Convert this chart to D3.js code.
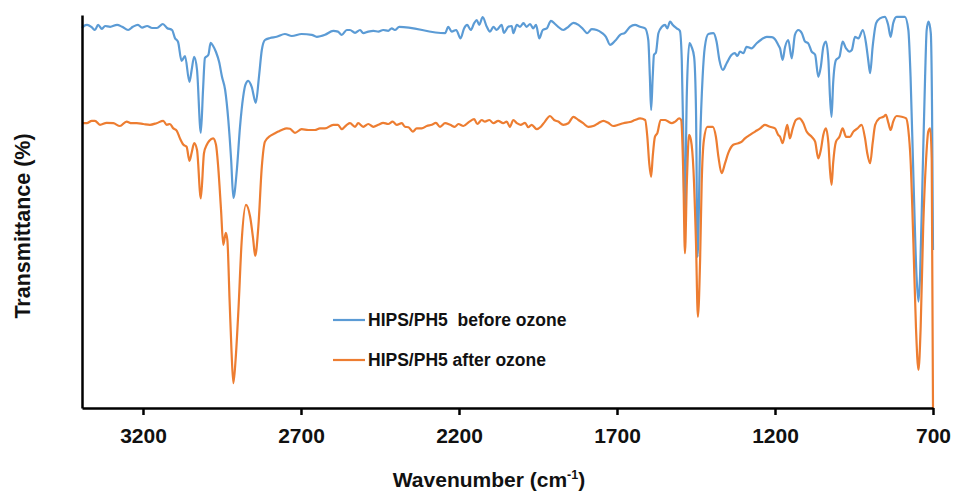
<!DOCTYPE html>
<html>
<head>
<meta charset="utf-8">
<script src="https://cdn.jsdelivr.net/npm/d3@7"></script>
<style>
    body { margin: 0; background: #fff; }
    svg text { font-family: 'Liberation Sans', Arial, sans-serif; font-weight: bold; fill: #111; }
</style>
</head>
<body>
<div id="chart"></div>
<script>
// wavenumber (cm-1), transmittance (arbitrary %, no y labels in the source)
const beforeOzone = [[3393,95.0],[3387,95.5],[3377,95.8],[3361,95.1],[3352,94.5],[3342,95.8],[3330,94.8],[3320,95.5],[3304,95.3],[3282,95.8],[3266,95.3],[3247,94.5],[3232,95.3],[3216,95.8],[3203,95.1],[3187,95.5],[3171,95.0],[3156,95.0],[3137,96.0],[3124,95.0],[3108,94.5],[3099,92.5],[3089,91.5],[3078,86.8],[3067,88.0],[3053,81.5],[3046,84.5],[3038,87.8],[3029,84.5],[3017,68.8],[3010,79.5],[3004,87.5],[2993,88.3],[2986,91.3],[2978,90.5],[2969,89.0],[2959,86.5],[2950,82.8],[2940,79.5],[2930,72.0],[2921,62.0],[2914,52.5],[2903,59.5],[2893,70.3],[2883,77.8],[2876,80.8],[2867,81.8],[2856,80.3],[2843,76.3],[2833,82.8],[2824,89.5],[2814,92.0],[2798,92.5],[2777,92.8],[2751,93.5],[2729,93.0],[2698,93.5],[2666,93.3],[2650,92.8],[2624,93.3],[2598,94.3],[2583,94.1],[2571,93.3],[2555,94.5],[2545,94.5],[2529,93.8],[2513,94.5],[2503,93.7],[2487,94.1],[2471,94.3],[2455,94.1],[2440,94.5],[2424,94.3],[2413,94.9],[2403,94.5],[2389,95.3],[2244,93.7],[2234,95.3],[2223,94.1],[2209,94.5],[2195,92.4],[2184,94.9],[2174,95.8],[2163,94.5],[2152,96.2],[2144,97.0],[2136,95.8],[2125,97.7],[2112,95.3],[2102,94.1],[2091,95.3],[2081,94.5],[2065,95.8],[2058,93.8],[2044,95.3],[2033,95.5],[2028,93.7],[2017,95.8],[2007,95.3],[1996,96.2],[1986,95.3],[1975,96.0],[1965,94.9],[1956,95.8],[1946,92.4],[1935,94.5],[1922,94.9],[1909,96.8],[1896,96.0],[1886,95.3],[1870,94.5],[1854,95.3],[1838,96.3],[1822,95.8],[1807,94.7],[1794,93.7],[1780,94.7],[1764,94.5],[1748,93.8],[1735,92.8],[1722,90.8],[1706,91.8],[1690,93.3],[1675,93.8],[1659,95.3],[1643,95.8],[1627,95.3],[1611,94.9],[1601,92.0],[1596,82.8],[1592,74.5],[1587,82.8],[1583,88.3],[1577,88.8],[1569,93.7],[1558,95.3],[1548,95.8],[1541,94.9],[1532,96.6],[1524,95.8],[1511,94.9],[1501,94.3],[1495,87.0],[1490,66.3],[1486,47.0],[1479,78.7],[1471,91.2],[1464,90.3],[1456,87.8],[1450,74.5],[1445,37.8],[1437,66.2],[1429,82.8],[1422,90.3],[1411,93.5],[1395,93.7],[1385,91.6],[1376,87.0],[1365,84.5],[1353,86.2],[1337,88.3],[1327,88.7],[1319,88.0],[1311,89.1],[1300,88.7],[1290,90.3],[1274,89.9],[1258,91.2],[1242,92.2],[1226,92.8],[1210,92.7],[1200,92.2],[1190,90.8],[1184,89.9],[1176,87.0],[1168,90.3],[1158,92.0],[1147,87.4],[1137,93.3],[1126,94.5],[1115,93.7],[1105,91.6],[1095,91.2],[1084,89.1],[1073,88.3],[1063,82.8],[1055,85.3],[1047,90.3],[1039,91.6],[1031,87.0],[1026,77.8],[1021,72.8],[1016,81.2],[1007,87.0],[996,87.8],[986,91.6],[975,89.9],[965,89.1],[957,89.5],[947,92.8],[936,92.4],[922,94.5],[912,91.2],[905,87.0],[899,83.7],[891,90.3],[880,96.2],[868,97.4],[852,97.8],[842,95.8],[834,92.8],[826,96.2],[815,97.8],[789,97.8],[778,94.5],[771,82.8],[762,57.8],[752,32.8],[746,26.6],[741,32.8],[733,57.8],[725,82.8],[720,94.5],[714,96.6],[707,93.7],[703,74.5],[700,39.5]]

const afterOzone = [[3393,71.2],[3378,71.2],[3362,71.8],[3352,71.8],[3336,70.8],[3315,71.3],[3294,71.2],[3273,70.5],[3252,71.6],[3236,71.2],[3220,71.2],[3199,71.0],[3178,70.8],[3157,71.2],[3136,71.8],[3125,70.8],[3115,71.0],[3104,69.9],[3093,69.3],[3083,67.4],[3072,65.8],[3062,65.3],[3053,61.8],[3046,63.8],[3038,66.2],[3029,64.5],[3017,52.4],[3007,63.7],[2998,65.8],[2990,66.8],[2978,67.4],[2969,65.8],[2962,60.3],[2953,49.5],[2946,40.8],[2938,43.8],[2933,42.0],[2926,27.0],[2920,14.5],[2914,6.2],[2907,12.0],[2898,24.5],[2888,41.3],[2874,50.8],[2861,47.8],[2851,42.0],[2845,38.0],[2835,45.3],[2824,60.3],[2814,66.6],[2798,68.0],[2782,68.7],[2772,69.1],[2761,69.5],[2745,69.9],[2735,69.8],[2719,68.8],[2698,69.7],[2677,69.5],[2656,69.5],[2640,69.9],[2624,69.9],[2598,70.8],[2583,70.8],[2571,69.7],[2555,70.8],[2545,71.2],[2529,70.3],[2519,71.2],[2503,70.3],[2487,71.0],[2471,70.3],[2455,70.8],[2440,71.3],[2424,71.0],[2410,71.6],[2397,70.8],[2381,71.2],[2371,70.3],[2360,70.2],[2346,69.1],[2334,69.9],[2318,69.9],[2302,70.5],[2286,70.8],[2273,71.3],[2260,70.3],[2244,71.2],[2228,70.8],[2213,70.3],[2202,71.0],[2186,70.5],[2167,71.6],[2152,72.2],[2142,71.0],[2128,72.0],[2118,71.6],[2104,72.0],[2091,71.2],[2076,71.8],[2060,71.2],[2049,71.6],[2039,70.3],[2028,72.0],[2017,71.2],[2005,70.8],[1991,71.3],[1981,70.2],[1970,70.8],[1954,69.7],[1941,70.3],[1928,71.6],[1912,73.0],[1899,72.0],[1886,71.6],[1870,70.8],[1854,71.2],[1838,72.8],[1822,72.0],[1807,71.2],[1791,70.3],[1775,70.5],[1759,71.2],[1743,71.8],[1728,71.3],[1712,70.5],[1696,70.8],[1680,71.2],[1659,71.5],[1643,72.0],[1627,72.4],[1611,72.0],[1604,67.8],[1598,61.2],[1592,57.8],[1587,62.8],[1580,67.8],[1572,68.8],[1562,72.0],[1548,72.0],[1538,71.6],[1527,71.2],[1516,71.6],[1503,72.4],[1497,72.0],[1490,57.8],[1485,38.7],[1479,56.2],[1472,68.3],[1466,67.0],[1458,59.5],[1450,41.2],[1444,22.8],[1437,37.0],[1432,56.2],[1425,67.0],[1414,70.3],[1397,70.3],[1387,67.8],[1379,62.8],[1369,58.7],[1358,61.2],[1348,63.7],[1332,65.8],[1316,66.2],[1305,66.6],[1295,67.4],[1279,68.3],[1263,69.1],[1247,69.9],[1232,70.8],[1216,70.3],[1200,69.9],[1190,68.3],[1184,67.8],[1176,66.2],[1168,68.7],[1161,70.8],[1153,67.4],[1144,69.9],[1134,72.0],[1123,72.4],[1111,71.3],[1100,69.1],[1084,67.8],[1073,66.6],[1063,62.4],[1055,64.5],[1047,68.3],[1039,69.9],[1031,66.2],[1026,59.5],[1021,55.8],[1016,61.2],[1007,66.6],[996,67.8],[986,69.9],[975,67.8],[963,67.8],[952,69.1],[939,69.9],[926,70.8],[915,67.4],[908,63.7],[899,61.2],[891,66.2],[883,70.8],[870,72.4],[857,72.8],[849,73.3],[841,71.2],[834,69.5],[826,71.6],[815,73.0],[799,72.8],[785,72.4],[778,69.5],[771,62.0],[762,41.2],[754,20.3],[746,9.5],[739,20.3],[731,45.3],[722,62.0],[715,69.1],[709,69.9],[704,62.0],[700,0]]

const xTicks = [3200, 2700, 2200, 1700, 1200, 700]
const seriesNames = ['HIPS/PH5  before ozone', 'HIPS/PH5 after ozone']
const seriesColors = ['#5B9BD5', '#ED7D31']

const width = 953, height = 491
const margin = {top: 15, right: 20, bottom: 83, left: 82}

const svg = d3.select('#chart').append('svg')
    .attr('width', width)
    .attr('height', height)

// reversed wavenumber axis
const x = d3.scaleLinear()
    .domain([3393, 700])
    .range([margin.left, width - margin.right])
const y = d3.scaleLinear()
    .domain([0, 98.25])
    .range([height - margin.bottom, margin.top])

const line = d3.line()
    .x(d => x(d[0]))
    .y(d => y(d[1]))
    .curve(d3.curveMonotoneX)

;[beforeOzone, afterOzone].forEach((series, i) => {
    svg.append('path')
        .datum(series)
        .attr('fill', 'none')
        .attr('stroke', seriesColors[i])
        .attr('stroke-width', 2.2)
        .attr('stroke-linejoin', 'round')
        .attr('d', line)
})

// x axis
const xAxis = svg.append('g')
    .attr('transform', 'translate(0,' + (height - margin.bottom) + ')')
    .call(d3.axisBottom(x).tickValues(xTicks).tickSize(7).tickPadding(13).tickSizeOuter(0).tickFormat(d3.format('d')))
xAxis.select('.domain').attr('stroke', '#000').attr('stroke-width', 2.5)
xAxis.selectAll('.tick line').attr('stroke', '#000').attr('stroke-width', 2.5)
xAxis.selectAll('.tick text')
    .style('font-size', '21px')
    .style('font-family', "'Liberation Sans', Arial, sans-serif")
    .style('font-weight', 'bold')
    .attr('fill', '#111')

// y axis, no ticks
const yAxis = svg.append('g')
    .attr('transform', 'translate(' + margin.left + ',0)')
    .call(d3.axisLeft(y).tickValues([]).tickSizeOuter(0))
yAxis.select('.domain').attr('stroke', '#000').attr('stroke-width', 2.5)

// axis titles
svg.append('text')
    .attr('transform', 'translate(30,226) rotate(-90)')
    .style('text-anchor', 'middle')
    .style('font-size', '21.5px')
    .text('Transmittance (%)')

const xTitle = svg.append('text')
    .attr('x', 489)
    .attr('y', 487)
    .style('text-anchor', 'middle')
    .style('font-size', '21px')
xTitle.append('tspan').text('Wavenumber (cm')
xTitle.append('tspan').attr('dy', -8).style('font-size', '12.5px').text('-1')
xTitle.append('tspan').attr('dy', 8).text(')')

// legend
seriesNames.forEach((name, i) => {
    const ly = 320 + i * 40
    svg.append('line')
        .attr('x1', 333).attr('x2', 365)
        .attr('y1', ly).attr('y2', ly)
        .attr('stroke', seriesColors[i])
        .attr('stroke-width', 2.2)
    svg.append('text')
        .attr('x', 368)
        .attr('y', ly + 5.5)
        .style('font-size', '17.5px')
        .style('white-space', 'pre')
        .text(name)
})
</script>
</body>
</html>
